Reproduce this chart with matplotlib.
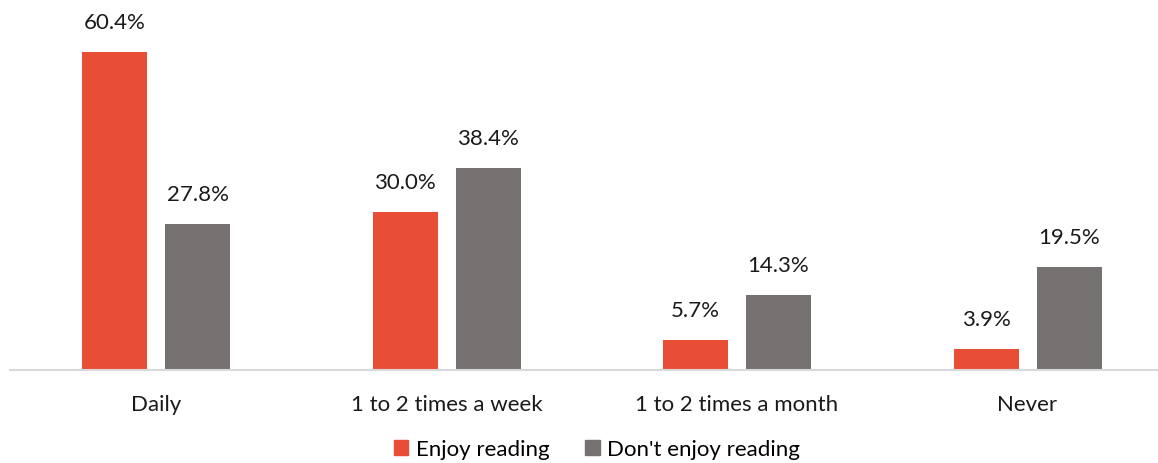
import matplotlib
matplotlib.use("Agg")
import matplotlib.pyplot as plt
from matplotlib.patches import Patch
import numpy as np

categories = ["Daily", "1 to 2 times a week", "1 to 2 times a month", "Never"]
enjoy = [60.4, 30.0, 5.7, 3.9]
dont_enjoy = [27.8, 38.4, 14.3, 19.5]
series_names = ["Enjoy reading", "Don't enjoy reading"]
colors = ["#E84E35", "#767171"]

plt.rcParams['font.family'] = ['Lato', 'DejaVu Sans']

W, H = 1158, 464
fig = plt.figure(figsize=(W / 100, H / 100), dpi=100)
base_px = 371
top_px = 10
ax = fig.add_axes([10 / W, (H - base_px) / H, (W - 10) / W, (base_px - top_px) / H])

px_per_unit = 318 / 60.4
ax.set_ylim(0, (base_px - top_px) / px_per_unit)
ax.set_xlim(-146 / 290.5, (W - 156) / 290.5)

x = np.arange(len(categories))
bw = 65 / 290.5
off = 41.5 / 290.5
b1 = ax.bar(x - off, enjoy, bw, color=colors[0])
b2 = ax.bar(x + off, dont_enjoy, bw, color=colors[1])

fs = 16
for bars, vals in ((b1, enjoy), (b2, dont_enjoy)):
    for r, v in zip(bars, vals):
        ax.annotate(f"{v:.1f}%", (r.get_x() + r.get_width() / 2, v),
                    xytext=(0, 20), textcoords="offset pixels",
                    ha="center", va="bottom", fontsize=fs, color="#1a1a1a")

ax.set_xticks(x)
ax.set_xticklabels(categories, fontsize=fs, color="#1a1a1a")
ax.tick_params(axis="x", length=0, pad=17)
ax.set_yticks([])
for s in ("top", "right", "left"):
    ax.spines[s].set_visible(False)
ax.spines["bottom"].set_color("#D9D9D9")
ax.spines["bottom"].set_linewidth(1.5)

handles = [Patch(color=colors[0]), Patch(color=colors[1])]
fig.legend(handles, series_names, loc="center", bbox_to_anchor=(597 / W, 1 - 450 / H),
           ncol=2, frameon=False, fontsize=fs, handlelength=0.65, handleheight=0.65,
           handletextpad=0.35, columnspacing=1.6, borderpad=0.2)

fig.savefig("out.png", dpi=100)
